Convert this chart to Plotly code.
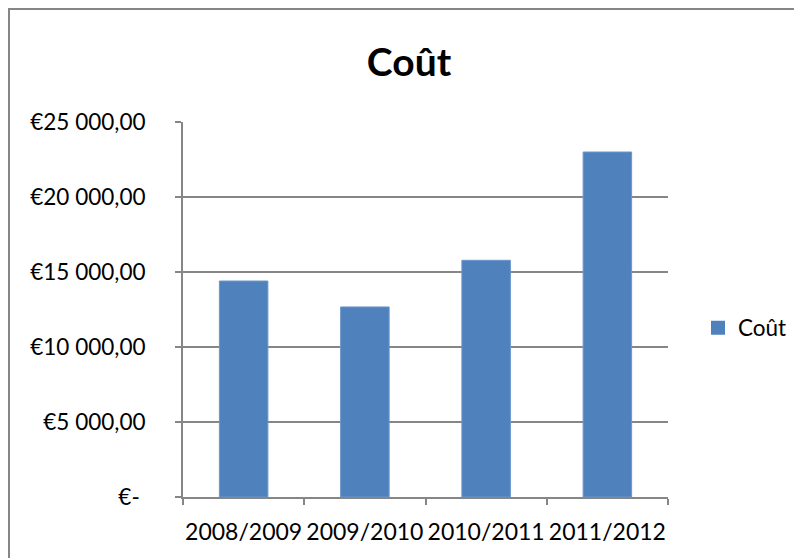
import plotly.graph_objects as go

categories = ["2008/2009", "2009/2010", "2010/2011", "2011/2012"]
cout_values = [14400, 12670, 15780, 23000]
y_tick_values = [0, 5000, 10000, 15000, 20000, 25000]
y_tick_labels = ["€-\u00a0", "€5 000,00", "€10 000,00", "€15 000,00", "€20 000,00", "€25 000,00"]
series_name = "Coût"
title_text = "Coût"

# page is drawn with an 8px body margin; work in figure coordinates
OFF = 8
W, H = 802, 558
L, R, T, B = 183 - OFF, 668 - OFF, 122 - OFF, 497 - OFF


def px_x(p):
    return (p - OFF - L) / (R - L)


def px_y(q):
    return (B - (q - OFF)) / (B - T)


FONT = "Lato, 'Open Sans', sans-serif"
GRAY = "#868686"
BLUE = "#4F81BD"

fig = go.Figure()
fig.add_trace(go.Bar(
    x=categories, y=cout_values, name=series_name,
    marker=dict(color=BLUE, line=dict(color="#6C96CB", width=1)),
    width=0.4, showlegend=False,
))
fig.add_trace(go.Scatter(
    x=[None], y=[None], mode="markers", name=series_name,
    marker=dict(symbol="square", size=14, color=BLUE),
    showlegend=True,
))

shapes = [
    dict(type="line", xref="paper", yref="paper",
         x0=px_x(7), x1=px_x(900), y0=px_y(9), y1=px_y(9),
         line=dict(color=GRAY, width=2)),
    dict(type="line", xref="paper", yref="paper",
         x0=px_x(9), x1=px_x(9), y0=px_y(8), y1=px_y(700),
         line=dict(color=GRAY, width=2)),
]

fig.update_layout(
    width=W, height=H,
    margin=dict(l=L, r=W - R, t=T, b=H - B, pad=0, autoexpand=False),
    paper_bgcolor="white", plot_bgcolor="white",
    font=dict(family=FONT, size=22, color="black"),
    title=dict(text="<b>" + title_text + "</b>", x=(409 - OFF) / W, xref="container", xanchor="center",
               y=1 - (62 - OFF) / H, yref="container", yanchor="middle",
               font=dict(family=FONT, size=39, color="black")),
    showlegend=True,
    legend=dict(x=px_x(698), xanchor="left", y=px_y(328), yanchor="middle",
                font=dict(family=FONT, size=22.5, color="black"),
                bgcolor="rgba(0,0,0,0)", itemsizing="trace"),
    xaxis=dict(type="category", showgrid=False, showline=True, linecolor=GRAY, linewidth=2,
               ticks="outside", tickson="boundaries", ticklen=6, tickcolor=GRAY, tickwidth=2,
               tickangle=0, automargin=False,
               tickfont=dict(family=FONT, size=23, color="black"), ticklabelstandoff=13),
    yaxis=dict(range=[0, 25000], tickvals=y_tick_values, ticktext=y_tick_labels,
               showgrid=True, gridcolor=GRAY, gridwidth=1.5, showline=True, linecolor=GRAY, linewidth=2,
               ticks="outside", ticklen=6, tickcolor=GRAY, tickwidth=2, zeroline=False, automargin=False,
               tickfont=dict(family=FONT, size=22.5, color="black"), ticklabelstandoff=25),
    shapes=shapes,
)

fig.write_html("out.html")
